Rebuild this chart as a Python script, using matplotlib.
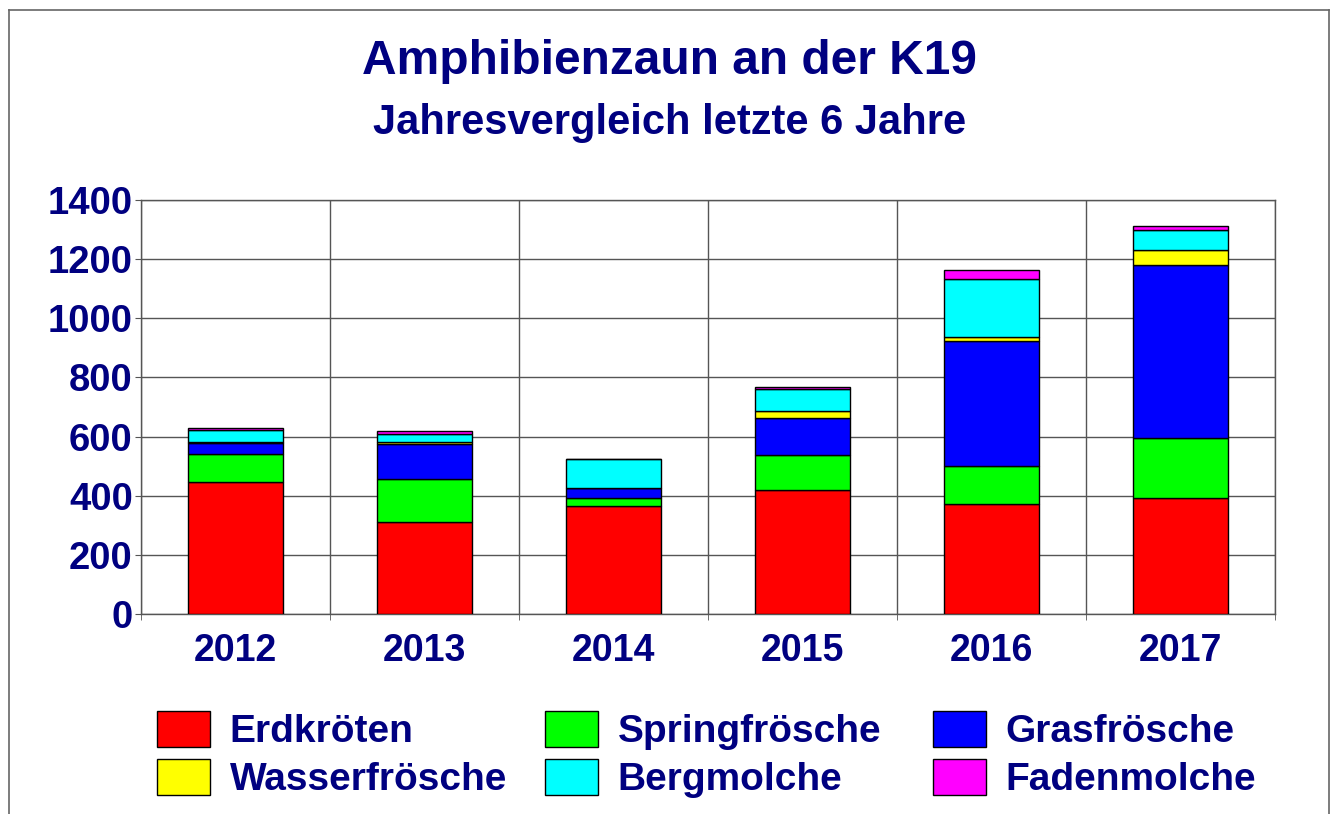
import numpy as np
import matplotlib
matplotlib.use('Agg')
from matplotlib import pyplot as plt
from matplotlib.lines import Line2D

years = ['2012', '2013', '2014', '2015', '2016', '2017']
erdkroeten = [445, 310, 365, 420, 373, 392]
springfroesche = [95, 145, 26, 116, 128, 204]
grasfroesche = [38, 121, 36, 127, 423, 584]
wasserfroesche = [3, 4, 0, 22, 12, 50]
bergmolche = [40, 29, 96, 77, 199, 69]
fadenmolche = [7, 9, 2, 6, 28, 13]

series = [
    ('Erdkröten', erdkroeten, '#ff0000'),
    ('Springfrösche', springfroesche, '#00ff00'),
    ('Grasfrösche', grasfroesche, '#0000ff'),
    ('Wasserfrösche', wasserfroesche, '#ffff00'),
    ('Bergmolche', bergmolche, '#00ffff'),
    ('Fadenmolche', fadenmolche, '#ff00ff'),
]

navy = '#000080'
plt.rcParams['font.family'] = ['Liberation Sans', 'DejaVu Sans']
plt.rcParams['font.weight'] = 'bold'

fig = plt.figure(figsize=(13.31, 8.14), dpi=100)
ax = fig.add_axes([0.106, 0.246, 0.852, 0.508])

x = np.arange(len(years))
bottom = np.zeros(len(years))
handles = {}
for name, vals, col in series:
    vals = np.array(vals, dtype=float)
    b = ax.bar(x, vals, 0.5, bottom=bottom, color=col, edgecolor='black',
               linewidth=1, label=name, zorder=3)
    handles[name] = b
    bottom += vals

ax.set_xlim(-0.5, len(years) - 0.5)
ax.set_ylim(0, 1400)
ax.set_yticks(np.arange(0, 1401, 200))
ax.set_xticks(x)
ax.set_xticklabels(years)
ax.set_xticks(np.arange(-0.5, len(years)), minor=True)
ax.grid(axis='y', which='major', color='#555555', linewidth=1, zorder=0)
ax.grid(axis='x', which='minor', color='#555555', linewidth=1, zorder=0)
ax.tick_params(axis='x', which='major', length=0, pad=14, labelsize=27, labelcolor=navy)
ax.tick_params(axis='x', which='minor', length=4, color='#555555')
ax.tick_params(axis='y', length=4, pad=2, labelsize=27.5, labelcolor=navy, color='#555555')
for s in ax.spines.values():
    s.set_color('#555555')
    s.set_linewidth(1)

fig.text(0.503, 0.9087, 'Amphibienzaun an der K19', ha='center', va='baseline',
         fontsize=34.5, color=navy, fontweight='bold')
fig.text(0.503, 0.835, 'Jahresvergleich letzte 6 Jahre', ha='center', va='baseline',
         fontsize=30, color=navy, fontweight='bold')

# legend: three columns, two rows
columns = [['Erdkröten', 'Wasserfrösche'],
           ['Springfrösche', 'Bergmolche'],
           ['Grasfrösche', 'Fadenmolche']]
col_x = [0.118, 0.4095, 0.701]
for names, cx in zip(columns, col_x):
    leg = fig.legend([handles[n] for n in names], names, ncol=1,
                     loc='upper left', bbox_to_anchor=(cx, 0.1268), frameon=False,
                     fontsize=28, handlelength=1.36, handleheight=1.05,
                     handletextpad=0.51, labelspacing=0.23,
                     borderpad=0, borderaxespad=0)
    for t in leg.get_texts():
        t.set_color(navy)

# outer frame
fc = '#666666'
fig.add_artist(Line2D([0.0066, 0.0066], [0, 0.988], color=fc, lw=1.2))
fig.add_artist(Line2D([0.0066, 0.9985], [0.988, 0.988], color=fc, lw=1.2))
fig.add_artist(Line2D([0.9985, 0.9985], [0, 0.988], color=fc, lw=1.2))

fig.savefig('out.png', dpi=100)
